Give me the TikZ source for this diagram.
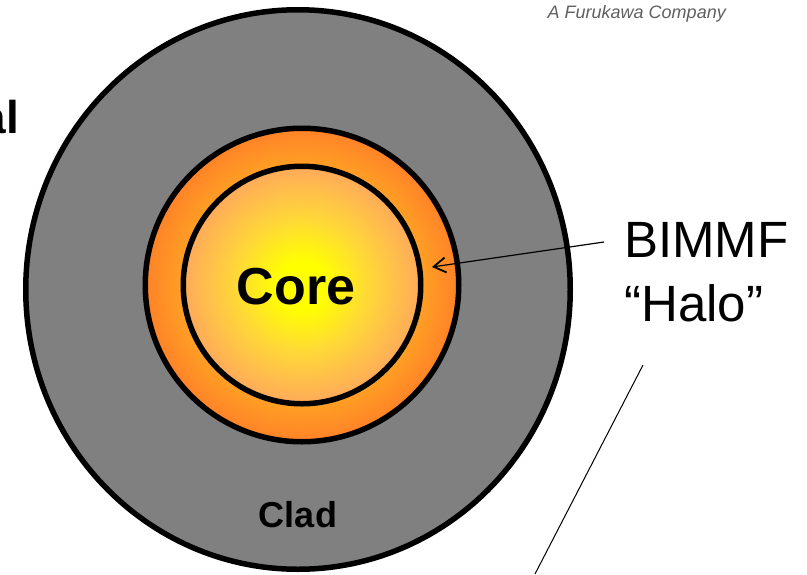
\documentclass[tikz,border=0pt]{standalone}
\usepackage{fontspec}
\setmainfont{Liberation Sans}
\usetikzlibrary{arrows.meta,shapes.geometric}

\definecolor{cladgray}{HTML}{808080}
\definecolor{coreyellow}{HTML}{FFFF00}
\definecolor{corelight}{HTML}{FFD838}
\definecolor{corepeach}{HTML}{FFAA5A}
\definecolor{haloinner}{HTML}{FFC020}
\definecolor{halomid}{HTML}{FFA024}
\definecolor{haloouter}{HTML}{FF8228}
\definecolor{logogray}{HTML}{606060}

\pgfdeclareradialshading{core glow}{\pgfpointorigin}{color(0bp)=(coreyellow); color(5bp)=(coreyellow); color(14bp)=(corelight); color(25bp)=(corepeach); color(50bp)=(corepeach)}
\pgfdeclareradialshading{halo glow}{\pgfpointorigin}{color(0bp)=(haloinner); color(19bp)=(halomid); color(25bp)=(haloouter); color(50bp)=(haloouter)}

\begin{document}
\begin{tikzpicture}[x=1pt,y=-1pt,
    layer/.style={draw,line width=5.5pt,inner sep=0pt},
    bold label/.style={inner sep=0pt,font=\bfseries\fontsize{#1}{#1}\selectfont},
    side label/.style={inner sep=0pt,anchor=west,font=\fontsize{51}{60}\selectfont},
    pointer/.style={line width=1.2pt,-{Straight Barb[length=12pt,width=15pt,line width=1.8pt]}}]
    \useasboundingbox (0,0) rectangle (807,574);

    % fibre cross section
    \node[layer,ellipse,fill=cladgray,minimum width=544.5pt,minimum height=559.5pt] (clad) at (298,289.5) {};
    \node[layer,circle,shade,shading=halo glow,minimum size=313.5pt] (halo ring) at (302,285) {};
    \node[layer,circle,shade,shading=core glow,minimum size=237.5pt] (core) at (302,285) {};

    \node[bold label=52] (core label) at (296,287) {Core};
    \node[bold label=36] (clad label) at (298,515) {Clad};
    \node[bold label=46,anchor=base east] (cut label) at (19,133) {al};
    \node[inner sep=0pt,anchor=base east,text=logogray,font=\itshape\fontsize{18}{20}\selectfont] (logo) at (726,18) {A Furukawa Company};

    % labels on the right
    \node[side label] (bimmf) at (624,240) {BIMMF};
    \node[side label] (halo) at (624,303) {“Halo”};

    \coordinate (halo from) at (604,242);
    \coordinate (halo tip) at (432,267);
    \draw[pointer] (halo from) -- (halo tip);

    \coordinate (stray top) at (643,365);
    \coordinate (stray end) at (535,574);
    \draw[line width=1pt] (stray top) -- (stray end);
\end{tikzpicture}
\end{document}
